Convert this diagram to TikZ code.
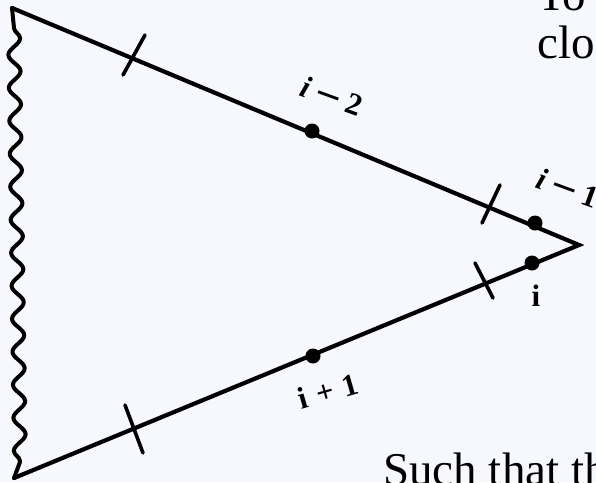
\documentclass[tikz,border=0pt]{standalone}
\usepackage{fontspec}
\setmainfont{Liberation Serif}
\usetikzlibrary{decorations.pathmorphing}
\definecolor{bgc}{HTML}{F6F8FD}
\newcommand{\longdash}{{\fontsize{42}{42}\selectfont –}}
\begin{document}
\begin{tikzpicture}[x=1pt,y=-1pt,
  edge/.style={line width=4.2pt,line join=miter,line cap=round},
  tickmark/.style={line width=3.6pt,line cap=round},
  dotmark/.style={circle,fill=black,inner sep=0pt,minimum size=15pt},
  lab/.style={font=\fontsize{31}{36}\selectfont\bfseries,inner sep=0pt},
  slide/.style={font=\fontsize{47}{56}\selectfont,inner sep=0pt,anchor=base west}]
\useasboundingbox (0,0) rectangle (596,482);
\clip (0,0) rectangle (596,482);
\fill[bgc] (0,0) rectangle (596,482);
% vertices
\coordinate (tl) at (12,8);
\coordinate (bl) at (14,478);
\coordinate (ap) at (579,245);
\coordinate (w1) at (14,28);
\coordinate (w2) at (20,462);
% edges
\draw[edge] (bl) -- (ap) -- (tl);
\draw[edge,line width=4pt,line join=round] (tl) -- (w1)
  decorate[decoration={snake,amplitude=6pt,segment length=33pt}] {-- (w2)} -- (bl);
% dots
\node[dotmark] (d2) at (312,131) {};
\node[dotmark] (d1) at (535,223) {};
\node[dotmark] (d0) at (532,263) {};
\node[dotmark] (d3) at (313,356) {};
% ticks
\draw[tickmark] (145,35) -- (123,75);
\draw[tickmark] (500,185) -- (482,223);
\draw[tickmark] (475,263) -- (493,298);
\draw[tickmark] (125,405) -- (143,453);
% labels
\node[lab,rotate=-20] (l2) at (332,96) {\textit{i}\hspace{9pt}\longdash\hspace{9pt}2};
\node[lab,rotate=-20] (l1) at (568,188) {\textit{i}\hspace{9pt}\longdash\hspace{9pt}1};
\node[lab] (l0) at (536,296) {i};
\node[lab,rotate=16] (l3) at (328,391) {i\hspace{10pt}+\hspace{10pt}1};
% slide text
\node[slide] (t1) at (537,10) {To};
\node[slide] (t2) at (537,58) {clo};
\node[slide] (t3) at (383,485) {Such that th};
\end{tikzpicture}
\end{document}
